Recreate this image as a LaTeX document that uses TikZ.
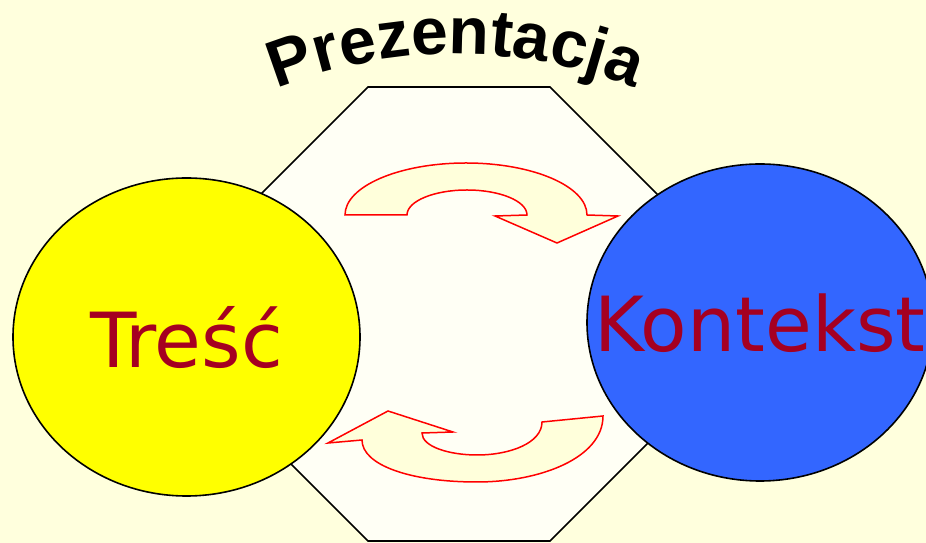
\documentclass[tikz,border=0pt]{standalone}
\usepackage{fontspec}
\usetikzlibrary{shapes.geometric,decorations.text}
\newfontfamily\labelfont{DejaVu Sans}
\newfontfamily\titlefont{Liberation Sans}
\definecolor{paper}{HTML}{FFFFDD}
\definecolor{octfill}{HTML}{FFFFF5}
\definecolor{arrowfill}{HTML}{FFFFDB}
\definecolor{sun}{HTML}{FFFF00}
\definecolor{sky}{HTML}{3366FF}
\definecolor{wine}{HTML}{A50021}
\tikzset{
  outline/.style={draw=black, line width=1.6pt, line join=miter},
  blob/.style={ellipse, draw=black, line width=1.6pt, inner sep=0pt},
  word/.style={text=wine, font=\labelfont\fontsize{76}{80}\selectfont, inner sep=0pt},
  curl/.style={draw=red, line width=1.5pt, fill=arrowfill, line join=miter}
}
\begin{document}
\begin{tikzpicture}[x=1pt,y=1pt]
\useasboundingbox (0,0) rectangle (926,543);
\clip (0,0) rectangle (926,543);
\fill[paper] (0,0) rectangle (926,543);

% central octagon
\draw[outline, fill=octfill] (368,456) -- (550,456) -- (686,320) -- (686,138)
  -- (550,2) -- (368,2) -- (232,138) -- (232,320) -- cycle;

% the two ellipses
\node[blob, fill=sun, minimum width=347pt, minimum height=318pt] (tresc) at (186.5,206) {};
\node[blob, fill=sky, minimum width=346pt, minimum height=317pt] (kontekst) at (760,220.5) {};

\node[word, anchor=base] (tresclabel) at (tresc.center |- 0,175) {Treść};
\node[word, anchor=base] (kontekstlabel) at (kontekst.center |- 0,191) {Kontekst};

% upper curved arrow, pointing right
\draw[curl] (345,328) arc[start angle=180, end angle=0, x radius=121pt, y radius=52pt]
  -- (618,327) -- (557,300) -- (495,327) -- (527,328)
  arc[start angle=0, end angle=180, x radius=60pt, y radius=25pt] -- cycle;

% lower curved arrow, pointing back to the left
\draw[curl] (542,121) -- (603,127)
  .. controls (603,85) and (540,61) .. (477,61)
  .. controls (410,61) and (362,78) .. (362,103)
  -- (328,100) -- (388,132) -- (453,111) -- (422,110)
  .. controls (422,96) and (450,88) .. (477,88)
  .. controls (510,88) and (542,100) .. (542,121) -- cycle;

% arched title
\path[decorate, decoration={text along path, text align=center,
  text={|\titlefont\bfseries\fontsize{66}{66}\selectfont|Prezentacja}}]
  (456,9) ++(125:480pt) arc[start angle=125, end angle=55, radius=480pt];
\end{tikzpicture}
\end{document}
